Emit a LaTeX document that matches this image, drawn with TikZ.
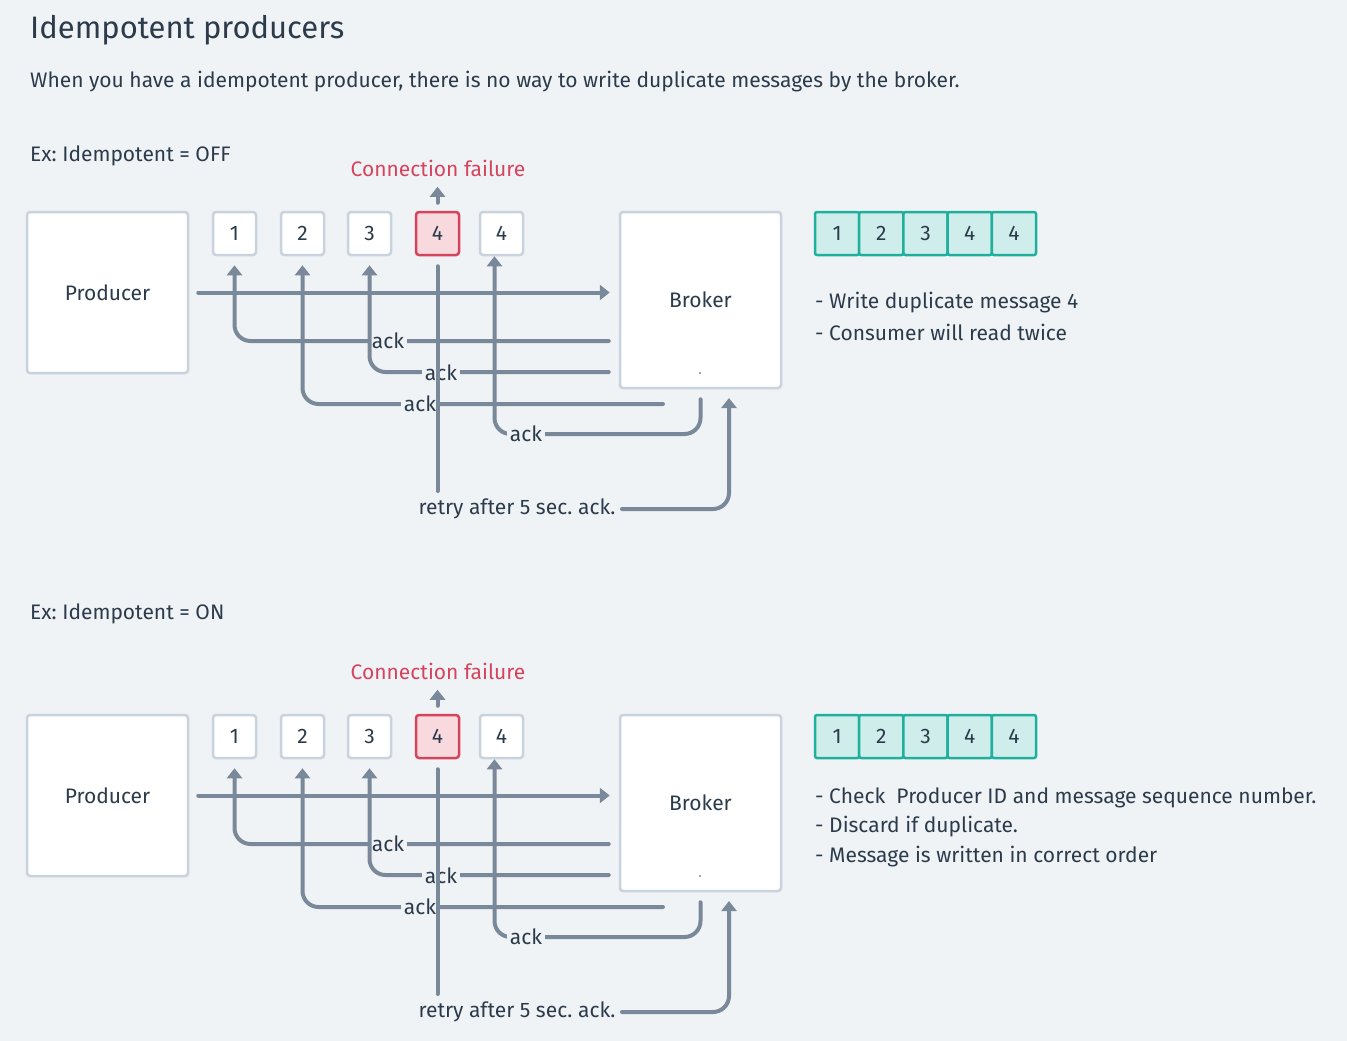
\documentclass[tikz,border=0pt]{standalone}
\usepackage{fontspec}
\setmainfont{Fira Sans}
\frenchspacing
\usetikzlibrary{arrows.meta}
\definecolor{bg}{HTML}{F0F3F6}
\definecolor{txt}{HTML}{2C3B4B}
\definecolor{ln}{HTML}{7A8999}
\definecolor{bd}{HTML}{C8D3DD}
\definecolor{rd}{HTML}{D5435C}
\definecolor{rdf}{HTML}{F7D9DE}
\definecolor{tl}{HTML}{1FAF9D}
\definecolor{tlf}{HTML}{CFEDEA}
\newcommand\drawpanel[2]{%
\begin{scope}[shift={(0,#2)}]
\node[box, minimum width=161pt, minimum height=161pt] (#1prod) at (107.5,292.5) {Producer};
\node[sq] (#1b1) at (234.5,233.5) {1};
\node[sq] (#1b2) at (302.5,233.5) {2};
\node[sq] (#1b3) at (369.5,233.5) {3};
\node[sqr] (#1b4) at (437.5,233.5) {4};
\node[sq] (#1b5) at (501.5,233.5) {4};
\node[box, minimum width=161pt, minimum height=176pt] (#1brk) at (700.5,300) {Broker};
\fill[ln] (700,373) circle (1.2pt);
\foreach \n [count=\i from 0] in {1,2,3,4,4}
  \node[cell] (#1c\i) at (837.1+44.2*\i,233.5) {\n};
\node[text=rd] (#1cf) at (438,168) {Connection failure};
\draw[arr] ([yshift=8pt]#1b4.north) -- ([yshift=24pt]#1b4.north);
\draw[arr] ([xshift=9pt]#1prod.east) -- ([xshift=-9pt]#1brk.west |- #1prod.east);
% acks
\draw[arr, rounded corners=16pt] ([xshift=-10pt]#1brk.west |- 0,341) -- (#1b1.south |- 0,341) -- ([yshift=-9pt]#1b1.south);
\node[lbl] (#1k1) at (388,341) {ack};
\draw[arr, rounded corners=16pt] ([xshift=-10pt]#1brk.west |- 0,372) -- (#1b3.south |- 0,372) -- ([yshift=-9pt]#1b3.south);
\node[lbl] (#1k3) at (441,373) {ack};
\coordinate (#1s2) at (663,404);
\draw[arr, rounded corners=16pt] (#1s2) -- (#1b2.south |- #1s2) -- ([yshift=-9pt]#1b2.south);
\node[lbl] (#1k2) at (420,404) {ack};
\coordinate (#1a4) at ([xshift=-7pt]#1b5.south);
\draw[arr, rounded corners=16pt] ([yshift=-10pt]#1brk.south) -- (#1brk.south |- 0,434) -- (#1a4 |- 0,434) -- (#1a4);
\node[lbl] (#1k4) at (526,434) {ack};
% retry
\node (#1retry) at (517,509) {retry after 5 sec. ack.};
\coordinate (#1rb) at (729,398);
\draw[arr, rounded corners=16pt] ([xshift=3pt]#1retry.east) -- (#1rb |- #1retry.east) -- (#1rb);
\draw[plain] ([yshift=-10pt]#1b4.south) -- (#1b4.south |- 0,491);
\end{scope}}
\begin{document}
\begin{tikzpicture}[x=1pt,y=-1pt, font=\fontsize{21}{25}\selectfont, text=txt,
 box/.style={draw=bd, fill=white, line width=2.5pt, rounded corners=3pt, inner sep=0pt},
 sq/.style={box, minimum width=43pt, minimum height=43pt},
 sqr/.style={sq, draw=rd, fill=rdf},
 cell/.style={draw=tl, fill=tlf, line width=2.5pt, rounded corners=2pt, minimum width=44.2pt, minimum height=43pt, inner sep=0pt},
 arr/.style={draw=ln, line width=4pt, line cap=round, -{Triangle[length=10pt,width=15pt]}},
 plain/.style={draw=ln, line width=4pt, line cap=round},
 lbl/.style={fill=bg, inner xsep=3pt, inner ysep=0pt},
 lt/.style={anchor=west, inner sep=0pt}]
\fill[bg] (0,0) rectangle (1347,1041);
\useasboundingbox (0,0) rectangle (1347,1041);
\node[lt, font=\fontsize{31}{36}\selectfont] (title) at (30,30) {Idempotent producers};
\node[lt] (sub) at (30,82) {When you have a idempotent producer, there is no way to write duplicate messages by the broker.};
\node[lt] (ex1) at (30,156) {Ex: Idempotent = OFF};
\node[lt] (ex2) at (30,614) {Ex: Idempotent = ON};
\drawpanel{t}{0}
\drawpanel{u}{503}
\node[lt] (n1) at (815,303) {- Write duplicate message 4};
\node[lt] (n2) at (815,332) {- Consumer will read twice};
\node[lt] (n3) at (815,798) {- Check~ Producer ID and message sequence number.};
\node[lt] (n4) at (815,827) {- Discard if duplicate.};
\node[lt] (n5) at (815,857) {- Message is written in correct order};
\end{tikzpicture}
\end{document}
